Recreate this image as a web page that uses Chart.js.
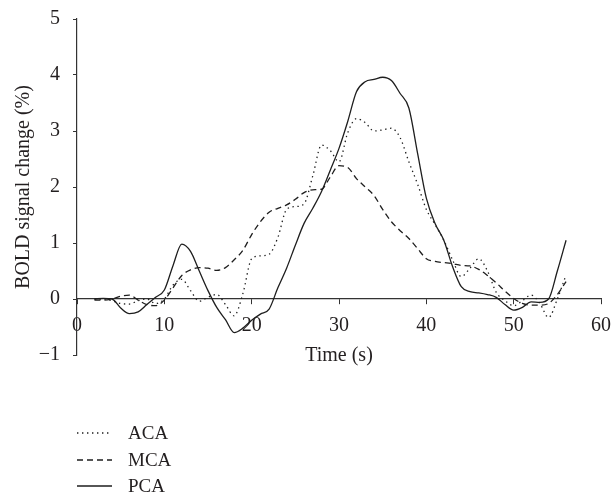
<!DOCTYPE html>
<html>
<head>
<meta charset="utf-8">
<script src="https://cdn.jsdelivr.net/npm/chart.js@4/dist/chart.umd.min.js"></script>
<style>
  html, body { margin: 0; padding: 0; background: #fff; }
  #wrap { position: relative; width: 612px; height: 495px; }
  #legend { position: absolute; left: 0; top: 0; }
  .lg-row { position: absolute; left: 0; height: 20px; }
  .lg-row svg { position: absolute; left: 77px; top: 5px; }
  .lg-row span { position: absolute; left: 128px; top: 0; line-height: 20px; white-space: nowrap;
    font-family: "Liberation Serif", "Times New Roman", serif; font-size: 19px; color: #231f20; }
</style>
</head>
<body>
<div id="wrap">
  <canvas id="c" width="612" height="495"></canvas>
  <div id="legend"></div>
</div>
<script>
// ---- data ----
const times = [2,3,4,5,6,7,8,9,10,11,12,13,14,15,16,17,18,19,20,21,22,23,24,25,26,27,28,29,30,31,32,33,34,35,36,37,38,39,40,41,42,43,44,45,46,47,48,49,50,51,52,53,54,55,56];
const acaValues = [0,0,-0.03,-0.08,-0.09,-0.03,0,-0.08,0,0.25,0.35,0.15,-0.04,0.03,0.08,-0.1,-0.3,0.1,0.72,0.77,0.8,1.1,1.6,1.65,1.7,2.2,2.75,2.65,2.45,2.97,3.22,3.15,3.0,3.02,3.05,2.88,2.45,2.05,1.6,1.33,1.05,0.7,0.4,0.55,0.72,0.5,0.12,-0.03,-0.12,-0.03,0.07,-0.08,-0.33,0,0.43];
const mcaValues = [-0.02,-0.02,0,0.05,0.07,-0.02,-0.1,-0.12,-0.02,0.2,0.42,0.52,0.56,0.55,0.51,0.56,0.7,0.87,1.15,1.38,1.55,1.62,1.68,1.78,1.9,1.95,1.96,2.18,2.38,2.35,2.15,2.0,1.85,1.6,1.38,1.22,1.08,0.9,0.72,0.67,0.65,0.63,0.6,0.59,0.53,0.42,0.29,0.14,0.01,-0.08,-0.11,-0.11,-0.08,0.08,0.31];
const pcaValues = [0,0.01,0,-0.16,-0.26,-0.23,-0.1,0.03,0.16,0.6,0.98,0.85,0.5,0.15,-0.15,-0.37,-0.6,-0.52,-0.38,-0.27,-0.18,0.2,0.55,0.96,1.35,1.62,1.92,2.3,2.69,3.17,3.7,3.88,3.92,3.96,3.9,3.67,3.41,2.6,1.8,1.35,1.05,0.58,0.22,0.13,0.11,0.08,0.03,-0.1,-0.2,-0.15,-0.05,-0.06,0,0.5,1.05];
const seriesNames = ['ACA', 'MCA', 'PCA'];
const xTickValues = [0, 10, 20, 30, 40, 50, 60];
const yTickValues = [-1, 0, 1, 2, 3, 4, 5];
const xTitle = 'Time (s)';
const yTitle = 'BOLD signal change (%)';

// ---- styles ----
const lineColor = '#1e1e1e';
const dashes = [[1.4, 3.6], [6, 4], []];
const widths = [1.3, 1.3, 1.3];
const FONT = '"Liberation Serif", "Times New Roman", serif';
const textColor = '#231f20';
const axisColor = '#333';

const seriesValues = [acaValues, mcaValues, pcaValues];
const datasets = seriesNames.map((name, i) => ({
  label: name,
  data: times.map((t, j) => ({x: t, y: seriesValues[i][j]})),
  borderColor: lineColor,
  backgroundColor: lineColor,
  borderWidth: widths[i],
  borderDash: dashes[i],
  pointRadius: 0,
  fill: false,
  tension: 0.35,
  cubicInterpolationMode: 'monotone'
}));

const toTicks = (vals) => (scale) => { scale.ticks = vals.map(v => ({value: v})); };

new Chart(document.getElementById('c'), {
  type: 'line',
  data: { datasets },
  options: {
    responsive: false,
    animation: false,
    events: [],
    layout: { padding: { left: 0, top: 19, right: 11, bottom: 140 } },
    plugins: { legend: { display: false }, tooltip: { enabled: false } },
    scales: {
      x: {
        type: 'linear',
        min: xTickValues[0],
        max: xTickValues[xTickValues.length - 1],
        position: { y: 0 },
        afterBuildTicks: toTicks(xTickValues),
        afterFit: (s) => { s.height = 69; s.paddingLeft = 0; s.paddingRight = 0; },
        grid: { drawOnChartArea: false, drawTicks: true, tickLength: 5, color: axisColor, lineWidth: 1 },
        border: { display: true, color: axisColor, width: 1.2 },
        ticks: { padding: 10, maxRotation: 0, autoSkip: false, color: textColor,
                 font: { family: FONT, size: 20 } },
        title: { display: true, text: xTitle, color: textColor, padding: { top: 0, bottom: 0 },
                 font: { family: FONT, size: 20 } }
      },
      y: {
        type: 'linear',
        min: yTickValues[0],
        max: yTickValues[yTickValues.length - 1],
        position: 'left',
        afterBuildTicks: toTicks(yTickValues),
        afterFit: (s) => { s.width = 77; s.paddingTop = 0; s.paddingBottom = 0; },
        grid: { drawOnChartArea: false, drawTicks: true, tickLength: 4, color: axisColor, lineWidth: 1 },
        border: { display: true, color: axisColor, width: 1.2 },
        ticks: { padding: 13, autoSkip: false, color: textColor,
                 font: { family: FONT, size: 20 },
                 callback: (v) => String(v).replace('-', '\u2212') },
        title: { display: true, text: yTitle, color: textColor, padding: { top: 12, bottom: 0 },
                 font: { family: FONT, size: 20 } }
      }
    }
  }
});

// ---- legend (HTML text) ----
const legend = document.getElementById('legend');
const rowCenters = [433, 459.5, 486];
seriesNames.forEach((name, i) => {
  const row = document.createElement('div');
  row.className = 'lg-row';
  row.style.top = (rowCenters[i] - 10) + 'px';
  const dash = dashes[i].length ? `stroke-dasharray="${dashes[i].join(' ')}"` : '';
  row.innerHTML = `<svg width="36" height="10"><line x1="0" y1="5" x2="35" y2="5" stroke="${lineColor}" stroke-width="${widths[i]}" ${dash}/></svg><span>${name}</span>`;
  legend.appendChild(row);
});
</script>
</body>
</html>
